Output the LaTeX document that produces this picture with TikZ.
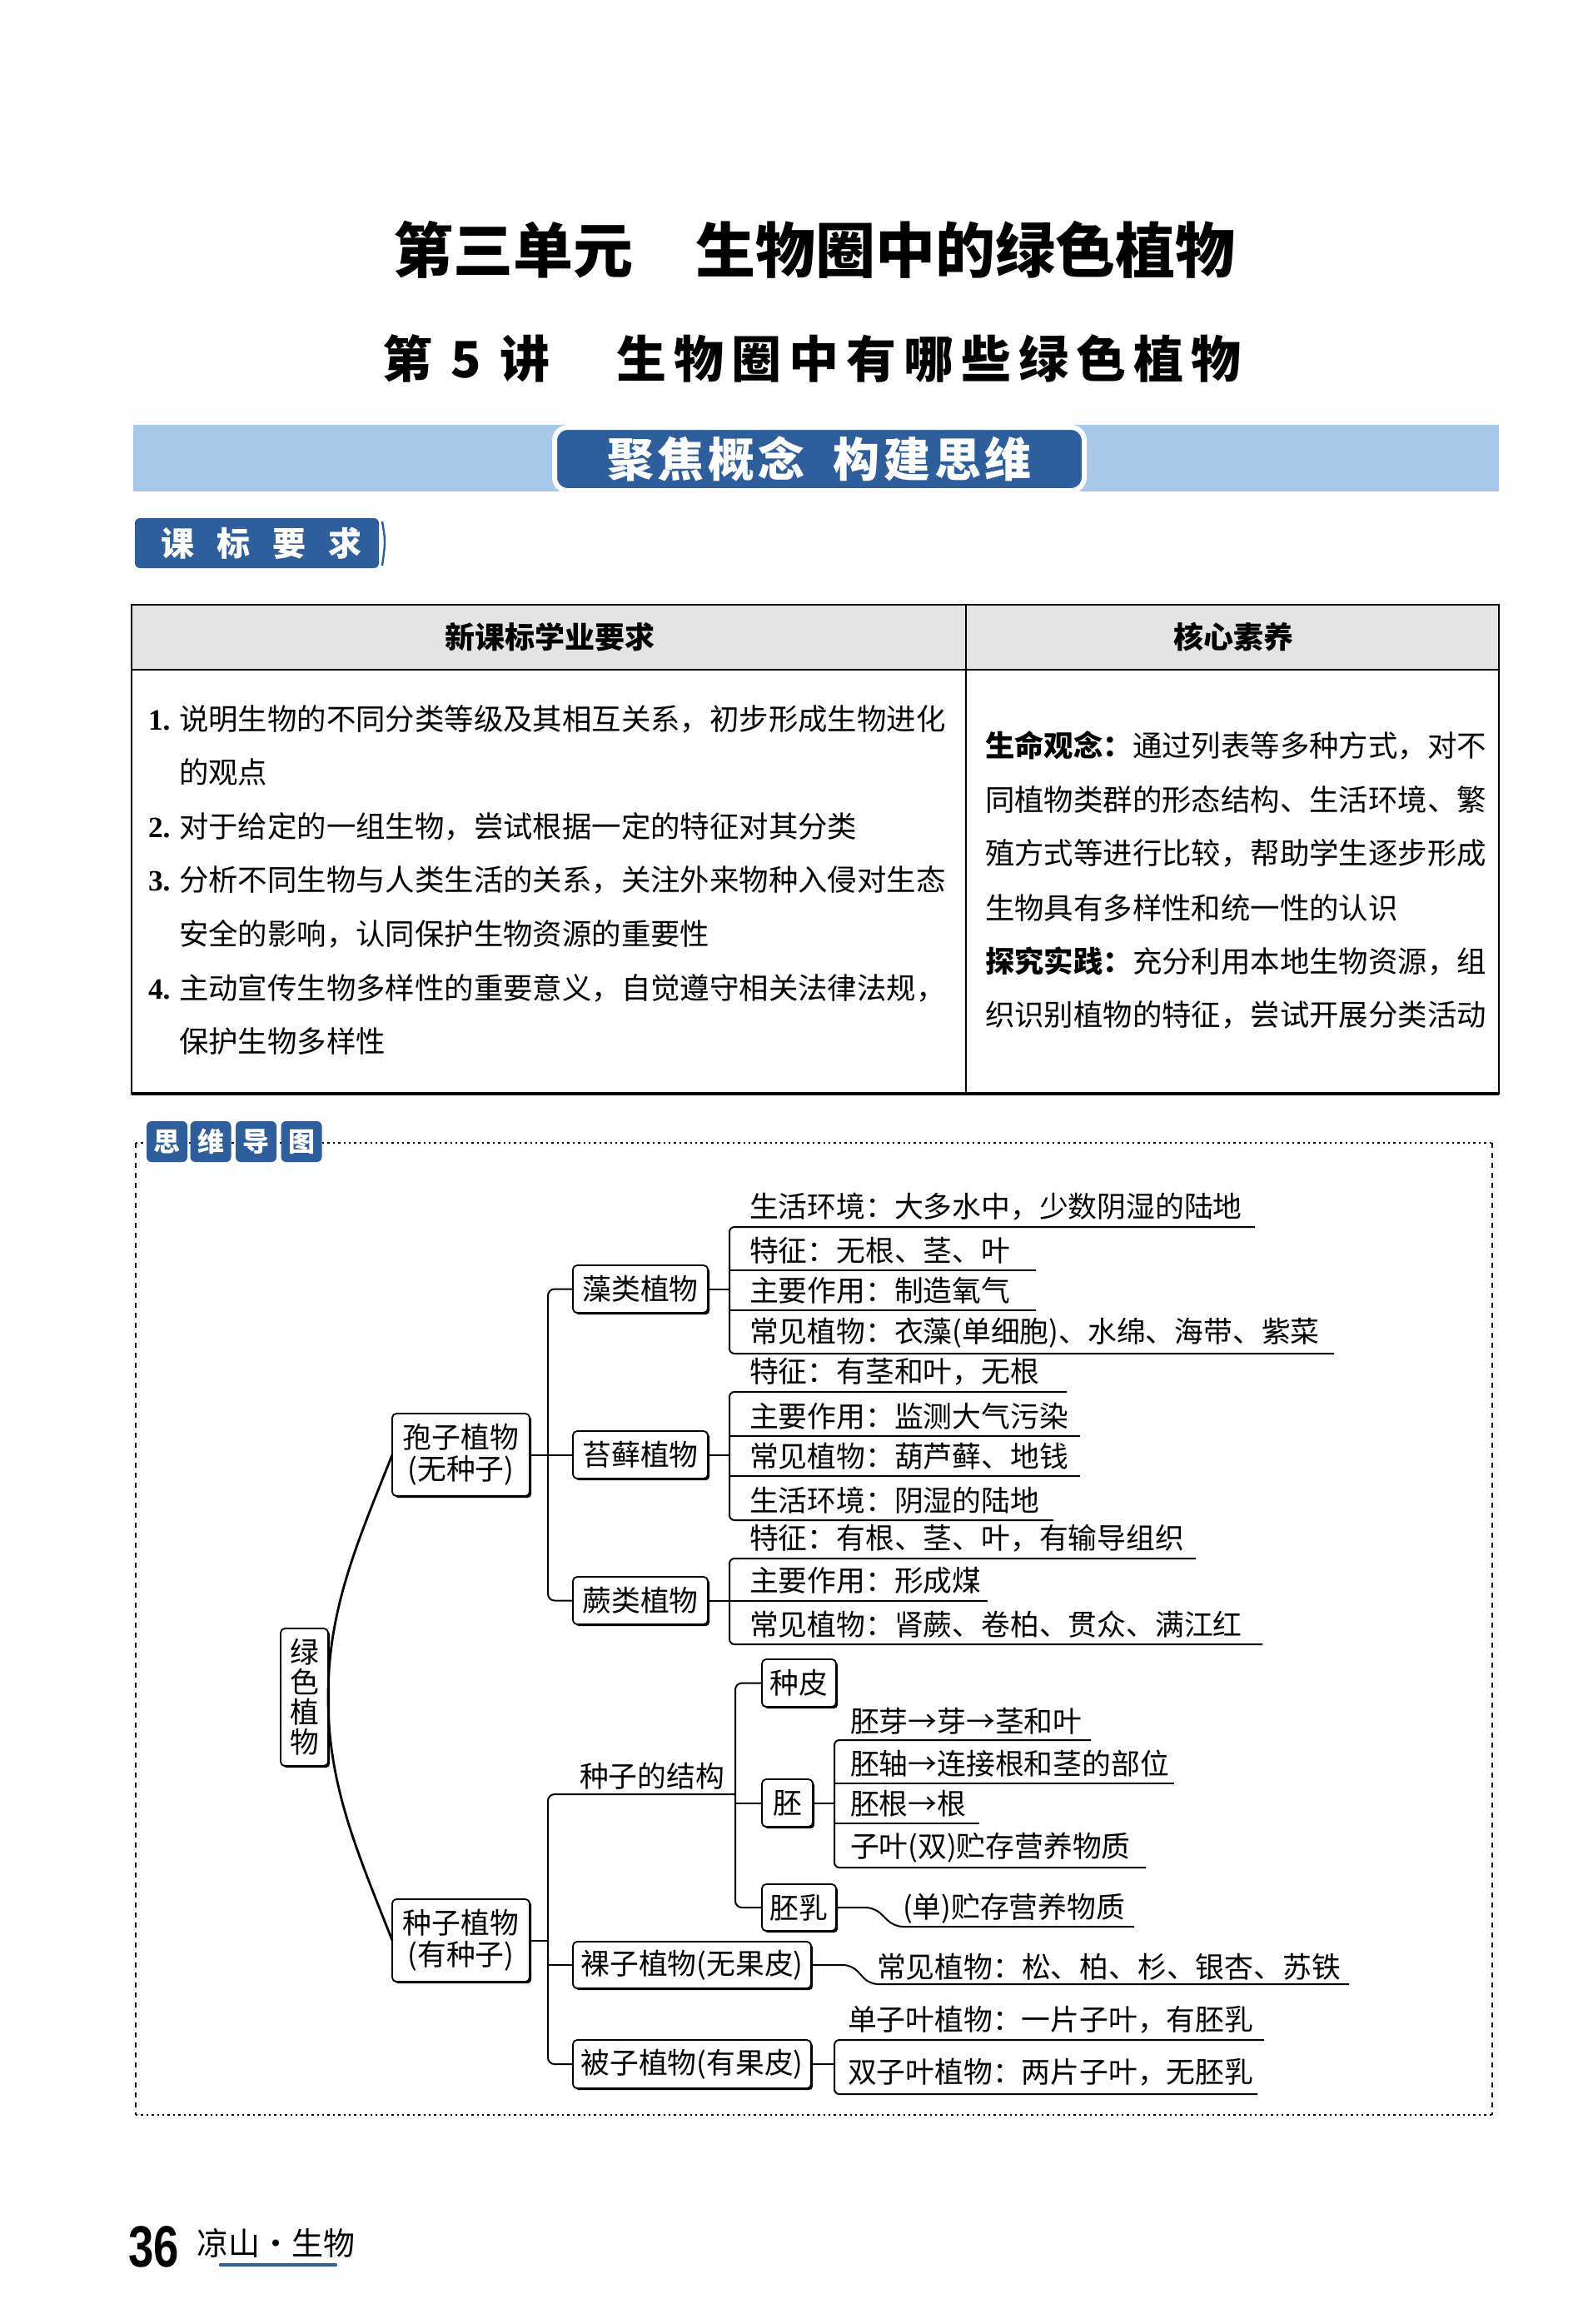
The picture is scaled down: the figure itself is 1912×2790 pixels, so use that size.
\documentclass[tikz,border=0pt]{standalone}
\usepackage{fontspec}
\usepackage{graphicx}
\setmainfont{Noto Sans CJK SC}
\newfontfamily\numfont{Liberation Serif}
\newfontfamily\footnum{Liberation Sans}
\usetikzlibrary{shadows}
\definecolor{kblue}{HTML}{2F5E9C}
\definecolor{bandblue}{HTML}{A7C8E8}
\definecolor{headgray}{HTML}{E4E4E4}
\newcommand\fs[2]{\fontsize{#1}{#2}\selectfont}
\makeatletter
\newcommand\spreadout[2]{\def\sp@sep{\hspace{#1}}\sp@a#2\sp@end}
\def\sp@a#1{\ifx#1\sp@end\else#1\expandafter\sp@b\fi}
\def\sp@b#1{\ifx#1\sp@end\else\sp@sep#1\expandafter\sp@b\fi}
\def\sp@end{\sp@end@}
\makeatother
\tikzset{
  mbox/.style={draw, line width=0.9pt, rounded corners=2.5pt, fill=white, align=center,
    font=\fs{17.4pt}{19pt},
    drop shadow={shadow xshift=1.1pt, shadow yshift=-1.1pt, fill=black, opacity=1}},
  mline/.style={line width=1pt},
  rc/.style={line width=1pt, rounded corners=3pt},
  mitem/.style={anchor=west, font=\fs{17.4pt}{19pt}},
  tbody/.style={anchor=west, font=\fs{17.7pt}{19pt}},
  tabw/.style={fill=kblue, rounded corners=3pt, minimum width=24.5pt, minimum height=24.5pt,
    text=white, font=\fs{16pt}{16pt}\bfseries},
}
\begin{document}
\begin{tikzpicture}[x=0.5pt,y=-0.5pt, every node/.append style={inner sep=0pt, outer sep=0pt}]
\fill[white] (0,0) rectangle (1912,2790);
\useasboundingbox (0,0) rectangle (1912,2790);

% titles
\node (title1) at (978,300) {\fs{36pt}{36pt}\bfseries 第三单元\hspace{1.05em}生物圈中的绿色植物};
\node (title2a) at (560,430) {\fs{30pt}{30pt}\bfseries 第\hspace{11pt}5\hspace{11pt}讲};
\node (title2b) at (1115,430) {\fs{30pt}{30pt}\bfseries\spreadout{4.5pt}{生物圈中有哪些绿色植物}};

% banner
\fill[bandblue] (160,510) rectangle (1800,590);
\node (banner) [fill=kblue, draw=white, line width=3pt, rounded corners=8pt,
  minimum width=318pt, minimum height=38pt, text=white] at (984,551)
  {\fs{28pt}{28pt}\bfseries\spreadout{2.3pt}{聚焦概念}\hspace{17pt}\spreadout{2.3pt}{构建思维}};

% tab 课标要求
\node (kbyq) [fill=kblue, rounded corners=3pt, minimum width=146.5pt, minimum height=30pt] at (308.5,652) {};
\node (kbyqt) [text=white] at (314,652) {\fs{20pt}{20pt}\bfseries\spreadout{13.5pt}{课标要求}};
\draw[kblue, line width=1.2pt] (459,626) .. controls (463,650) .. (459,679);

% table
\fill[headgray] (158,726) rectangle (1800,804);
\draw[line width=1pt] (158,726) rectangle (1800,1313);
\draw[line width=1pt] (158,804) -- (1800,804);
\draw[line width=1pt] (1160,726) -- (1160,1313);
\draw[line width=1.8pt] (158,1313) -- (1800,1313);
\node (h1) at (660,765) {\fs{18pt}{18pt}\bfseries 新课标学业要求};
\node (h2) at (1481,765) {\fs{18pt}{18pt}\bfseries 核心素养};

\node[tbody] (l1) at (178,863) {\makebox[18.5pt][l]{\numfont\bfseries 1.}说明生物的不同分类等级及其相互关系，初步形成生物进化};
\node[tbody] (l1b) at (215,927) {的观点};
\node[tbody] (l2) at (178,992) {\makebox[18.5pt][l]{\numfont\bfseries 2.}对于给定的一组生物，尝试根据一定的特征对其分类};
\node[tbody] (l3) at (178,1056) {\makebox[18.5pt][l]{\numfont\bfseries 3.}分析不同生物与人类生活的关系，关注外来物种入侵对生态};
\node[tbody] (l3b) at (215,1121) {安全的影响，认同保护生物资源的重要性};
\node[tbody] (l4) at (178,1186) {\makebox[18.5pt][l]{\numfont\bfseries 4.}主动宣传生物多样性的重要意义，自觉遵守相关法律法规，};
\node[tbody] (l4b) at (215,1250) {保护生物多样性};

\node[tbody] (r1) at (1183,895) {\textbf{生命观念：}通过列表等多种方式，对不};
\node[tbody] (r2) at (1183,960) {同植物类群的形态结构、生活环境、繁};
\node[tbody] (r3) at (1183,1024) {殖方式等进行比较，帮助学生逐步形成};
\node[tbody] (r4) at (1183,1090) {生物具有多样性和统一性的认识};
\node[tbody] (r5) at (1183,1154) {\textbf{探究实践：}充分利用本地生物资源，组};
\node[tbody] (r6) at (1183,1218) {织识别植物的特征，尝试开展分类活动};

% mind map frame
\draw[line width=0.7pt, dash pattern=on 1.2pt off 2pt] (163,1372) -- (1792,1372);
\draw[line width=0.7pt, dash pattern=on 1.2pt off 2pt] (163,2539) -- (1792,2539);
\draw[line width=0.6pt, dash pattern=on 3pt off 3pt] (163,1372) -- (163,2539);
\draw[line width=0.6pt, dash pattern=on 3pt off 3pt] (1792,1372) -- (1792,2539);
\node[tabw] (sw1) at (200.5,1370.5) {思};
\node[tabw] (sw2) at (253,1370.5) {维};
\node[tabw] (sw3) at (307.5,1370.5) {导};
\node[tabw] (sw4) at (362,1370.5) {图};

% boxes
\node[mbox, minimum width=81pt, minimum height=28.5pt] (zao) at (769,1547.5) {藻类植物};
\node[mbox, minimum width=81pt, minimum height=28.5pt] (tai) at (769,1746.5) {苔藓植物};
\node[mbox, minimum width=81pt, minimum height=28.5pt] (jue) at (769,1921.5) {蕨类植物};
\node[mbox, minimum width=82.5pt, minimum height=49.5pt] (spore) at (553.5,1746.5) {孢子植物\\(无种子)};
\node[mbox, minimum width=28.5pt, minimum height=82.5pt, font=\fs{17.4pt}{18pt}] (gp) at (365.5,2037.5) {绿\\色\\植\\物};
\node[mbox, minimum width=82.5pt, minimum height=49.5pt] (seed) at (553.5,2329.5) {种子植物\\(有种子)};
\node[mbox, minimum width=44.5pt, minimum height=28.5pt] (zhongpi) at (959.5,2020.5) {种皮};
\node[mbox, minimum width=30.5pt, minimum height=28.5pt] (pei) at (945.5,2164.5) {胚};
\node[mbox, minimum width=44.5pt, minimum height=28pt] (peiru) at (959.5,2290) {胚乳};
\node[mbox, minimum width=143pt, minimum height=28pt] (luozi) at (831,2359) {裸子植物(无果皮)};
\node[mbox, minimum width=143pt, minimum height=29pt] (beizi) at (831,2478) {被子植物(有果皮)};

% big curve
\draw[line width=1.4pt] (spore.west) .. controls (430,1850) and (394,1930) .. (gp.east)
  .. controls (394,2145) and (430,2225) .. (seed.west);

% spore trunk
\coordinate (st1) at (658,1747);
\draw[mline, rounded corners=4pt] (zao.west) -| (st1) |- (jue.west);
\draw[mline] (spore.east) -- (tai.west);

% 藻类
\coordinate (zb) at (876,1547.5);
\draw[mline] (zao.east) -- (zb);
\draw[rc] (1507,1473) -- (876,1473) -- (876,1625) -- (1602,1625);
\draw[mline] (876,1525) -- (1244,1525);
\draw[mline] (876,1573) -- (1244,1573);
\node[mitem] (z1) at (900,1449) {生活环境：大多水中，少数阴湿的陆地};
\node[mitem] (z2) at (900,1501) {特征：无根、茎、叶};
\node[mitem] (z3) at (900,1549) {主要作用：制造氧气};
\node[mitem] (z4) at (900,1600) {常见植物：衣藻(单细胞)、水绵、海带、紫菜};

% 苔藓
\coordinate (tb) at (876,1746.5);
\draw[mline] (tai.east) -- (tb);
\draw[rc] (1281,1671) -- (876,1671) -- (876,1825) -- (1265,1825);
\draw[mline] (876,1724) -- (1297,1724);
\draw[mline] (876,1772) -- (1297,1772);
\node[mitem] (t1) at (900,1647) {特征：有茎和叶，无根};
\node[mitem] (t2) at (900,1700) {主要作用：监测大气污染};
\node[mitem] (t3) at (900,1748) {常见植物：葫芦藓、地钱};
\node[mitem] (t4) at (900,1801) {生活环境：阴湿的陆地};

% 蕨类
\coordinate (jb) at (876,1921.5);
\draw[mline] (jue.east) -- (jb);
\draw[rc] (1436,1871) -- (876,1871) -- (876,1974) -- (1516,1974);
\draw[mline] (876,1921.5) -- (1186,1921.5);
\node[mitem] (j1) at (900,1847) {特征：有根、茎、叶，有输导组织};
\node[mitem] (j2) at (900,1897) {主要作用：形成煤};
\node[mitem] (j3) at (900,1950) {常见植物：肾蕨、卷柏、贯众、满江红};

% seed trunk
\coordinate (st2) at (658,2154);
\coordinate (sj) at (883,2154);
\draw[mline, rounded corners=4pt] (sj) -- (st2) |- (beizi.west);
\draw[mline] (seed.east) -- (seed.east -| st2);
\draw[mline] (luozi.west) -- (luozi.west -| st2);
\draw[mline, rounded corners=4pt] (zhongpi.west) -| (sj) |- (peiru.west);
\draw[mline] (pei.west) -- (pei.west -| sj);
\node[font=\fs{17.4pt}{19pt}] (jg) at (783,2132) {种子的结构};

% 胚
\coordinate (pb) at (1002,2164.5);
\draw[mline] (pei.east) -- (pb);
\draw[rc] (1310,2089) -- (1002,2089) -- (1002,2242) -- (1376,2242);
\draw[mline] (1002,2141) -- (1410,2141);
\draw[mline] (1002,2189) -- (1176,2189);
\node[mitem] (p1) at (1021,2066) {胚芽→芽→茎和叶};
\node[mitem] (p2) at (1021,2117) {胚轴→连接根和茎的部位};
\node[mitem] (p3) at (1021,2165) {胚根→根};
\node[mitem] (p4) at (1021,2218) {子叶(双)贮存营养物质};

% 胚乳
\coordinate (pr1) at (1050,2290);
\coordinate (pr2) at (1074,2313);
\coordinate (pr3) at (1362,2313);
\draw[mline, rounded corners=5pt] (peiru.east) -- (pr1) -- (pr2) -- (pr3);
\node[mitem] (pr) at (1084,2291) {(单)贮存营养物质};

% 裸子
\coordinate (lz1) at (1023,2359);
\coordinate (lz2) at (1044,2382);
\coordinate (lz3) at (1620,2382);
\draw[mline, rounded corners=5pt] (luozi.east) -- (lz1) -- (lz2) -- (lz3);
\node[mitem] (lz) at (1053,2361) {常见植物：松、柏、杉、银杏、苏铁};

% 被子
\coordinate (bb) at (1002,2478);
\draw[mline] (beizi.east) -- (bb);
\draw[rc] (1518,2449) -- (1002,2449) -- (1002,2514) -- (1510,2514);
\node[mitem] (b1) at (1018,2425) {单子叶植物：一片子叶，有胚乳};
\node[mitem] (b2) at (1018,2488) {双子叶植物：两片子叶，无胚乳};

% footer
\node (pnum) at (185,2697) {\footnum\bfseries\fs{35pt}{35pt}\scalebox{0.78}[1]{36}};
\node[anchor=west] (pname) at (236,2693) {\fs{19pt}{19pt}凉山・生物};
\draw[kblue, line width=2.2pt, line cap=round] (265,2719) -- (403,2719);
\end{tikzpicture}
\end{document}
